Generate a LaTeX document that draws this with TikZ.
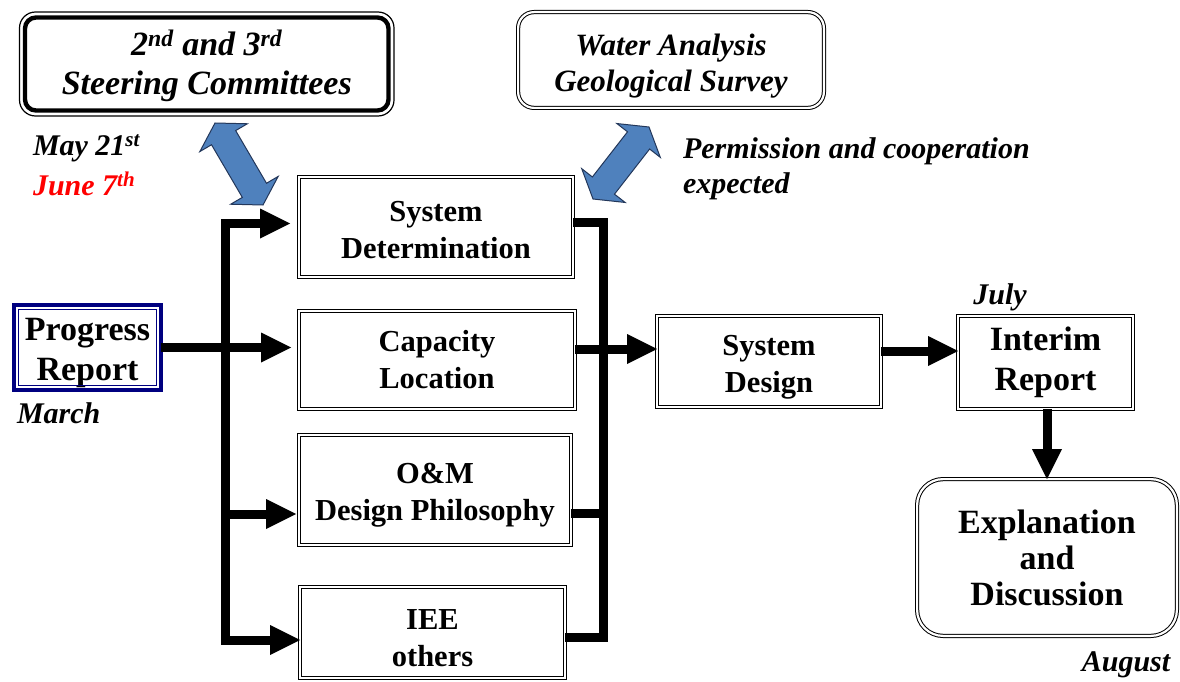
\documentclass[tikz,border=0pt]{standalone}
\usepackage{fontspec}
\setmainfont{Liberation Serif}
\usetikzlibrary{arrows.meta}
\definecolor{blueA}{RGB}{79,129,189}
\definecolor{blueE}{RGB}{35,55,90}
\definecolor{navyB}{RGB}{0,0,128}
\definecolor{redT}{RGB}{255,0,0}
\newcommand{\mystrut}[1]{\rule{0pt}{#1}}
\begin{document}
\begin{tikzpicture}[x=1pt,y=-1pt,
  >={Triangle[length=30pt,width=30pt,line width=0pt]},
  dbox/.style={draw, double, line width=1pt, double distance=2.2pt, inner sep=0pt, outer sep=0pt, align=center, font=\fontsize{30.5}{37}\selectfont\bfseries},
  bigtxt/.style={font=\fontsize{34}{40}\selectfont\bfseries},
  note/.style={inner sep=0pt, outer sep=0pt, font=\fontsize{30}{35}\selectfont\bfseries\itshape},
  conn/.style={line width=9pt, line join=miter},
  blueshape/.style={fill=blueA, draw=blueE, line width=1pt, line join=miter}]
\useasboundingbox (0,0) rectangle (1180,682);

% top boxes
\node[draw, line width=4.4pt, rounded corners=11pt, inner sep=0pt, outer sep=0pt,
  minimum width=363.5pt, minimum height=93pt, align=center,
  font=\fontsize{34}{39}\selectfont\bfseries\itshape] (steer) at (206.75,64)
  {\mystrut{29pt}2\textsuperscript{nd} and 3\textsuperscript{rd}\\Steering Committees};
\draw[line width=1.2pt, rounded corners=16pt] ([shift={(-5.5,-5.5)}]steer.north west) rectangle ([shift={(5.5,5.5)}]steer.south east);

\node[draw, double, line width=1pt, double distance=2.2pt, rounded corners=16pt, inner sep=0pt, outer sep=0pt,
  minimum width=305.8pt, minimum height=95.8pt, align=center,
  font=\fontsize{31}{36}\selectfont\bfseries\itshape] (water) at (671,60)
  {\mystrut{33pt}Water Analysis\\Geological Survey};

% blue double arrows
\draw[blueshape] (215,123) -- (199.85,151.57) -- (211.51,144.74) -- (242.33,197.40) -- (230.67,204.23)
  -- (263,205) -- (278.15,176.43) -- (266.49,183.26) -- (235.67,130.60) -- (247.33,123.77) -- cycle;
\draw[blueshape] (649,127) -- (616.85,123.53) -- (627.51,131.82) -- (592.39,176.98) -- (581.73,168.69)
  -- (593,199) -- (625.15,202.47) -- (614.49,194.18) -- (649.61,149.02) -- (660.27,157.31) -- cycle;

% notes
\node[note, anchor=west] (may) at (33,148) {May 21\textsuperscript{st}};
\node[note, anchor=west, text=redT] (june) at (33,184) {June 7\textsuperscript{th}};
\node[note, anchor=west] (march) at (17,413) {March};
\node[note, anchor=west, align=left] (perm) at (683,168.5) {Permission and cooperation\\expected};
\node[note] (july) at (1000,297) {July};
\node[note] (aug) at (1126,665) {August};

% progress report
\node[draw=navyB, line width=4.4pt, inner sep=0pt, outer sep=0pt, minimum width=146.6pt, minimum height=84.6pt,
  align=center, font=\fontsize{34}{40}\selectfont\bfseries] (pr) at (87.5,347.5) {\mystrut{33pt}Progress\\Report};
\draw[navyB, line width=1.3pt] ([shift={(4.6,4.6)}]pr.north west) rectangle ([shift={(-4.6,-4.6)}]pr.south east);

% middle boxes
\node[dbox, minimum width=273.8pt, minimum height=99.8pt] (sdet) at (436,227) {\mystrut{26pt}System\\Determination};
\node[dbox, minimum width=275.8pt, minimum height=97.8pt] (cap) at (437,360) {Capacity\\Location};
\node[dbox, minimum width=271.8pt, minimum height=109.8pt] (om) at (435,490) {\mystrut{31pt}O\&M\\Design Philosophy};
\node[dbox, minimum width=264.8pt, minimum height=90.8pt] (iee) at (432.5,632.5) {\mystrut{31pt}IEE\\others};
\node[dbox, minimum width=223.8pt, minimum height=90.8pt] (sd) at (769,361.5) {\mystrut{32pt}System\\Design};
\node[dbox, bigtxt, minimum width=174.8pt, minimum height=92.8pt] (ir) at (1045.5,362.5) {Interim\\Report};
\node[dbox, font=\fontsize{34}{36}\selectfont\bfseries, rounded corners=26pt, minimum width=259.8pt, minimum height=156.8pt] (exp) at (1047,557.5) {Explanation\\and\\Discussion};

% bus coordinates
\coordinate (lt) at (225.5,223.5);
\coordinate (lm) at (225.5,514);
\coordinate (lb) at (225.5,640);
\coordinate (rt) at (603,222.5);
\coordinate (rm) at (603,349);
\coordinate (rm2) at (603,513);
\coordinate (rb) at (603,637);
\coordinate (a3) at (920,351);

% connectors
\draw[conn,->,shorten >=8pt] (pr.east) -- (cap.west|-pr.east);
\draw[conn,<->,shorten <=9pt] (sdet.west|-lt) -- (lt) -- (lb) -- (iee.west|-lb);
\draw[conn,->,shorten >=3pt] (lm) -- (om.west|-lm);
\draw[conn] (sdet.east|-rt) -- (rt) -- (rb) -- (iee.east|-rb);
\draw[conn,->] (cap.east|-rm) -- (sd.west|-rm);
\draw[conn] (om.east|-rm2) -- (rm2);
\draw[conn,->] (sd.east|-a3) -- (ir.west|-a3);
\draw[conn,->] (exp.north|-ir.south) -- (exp.north);
\end{tikzpicture}
\end{document}
